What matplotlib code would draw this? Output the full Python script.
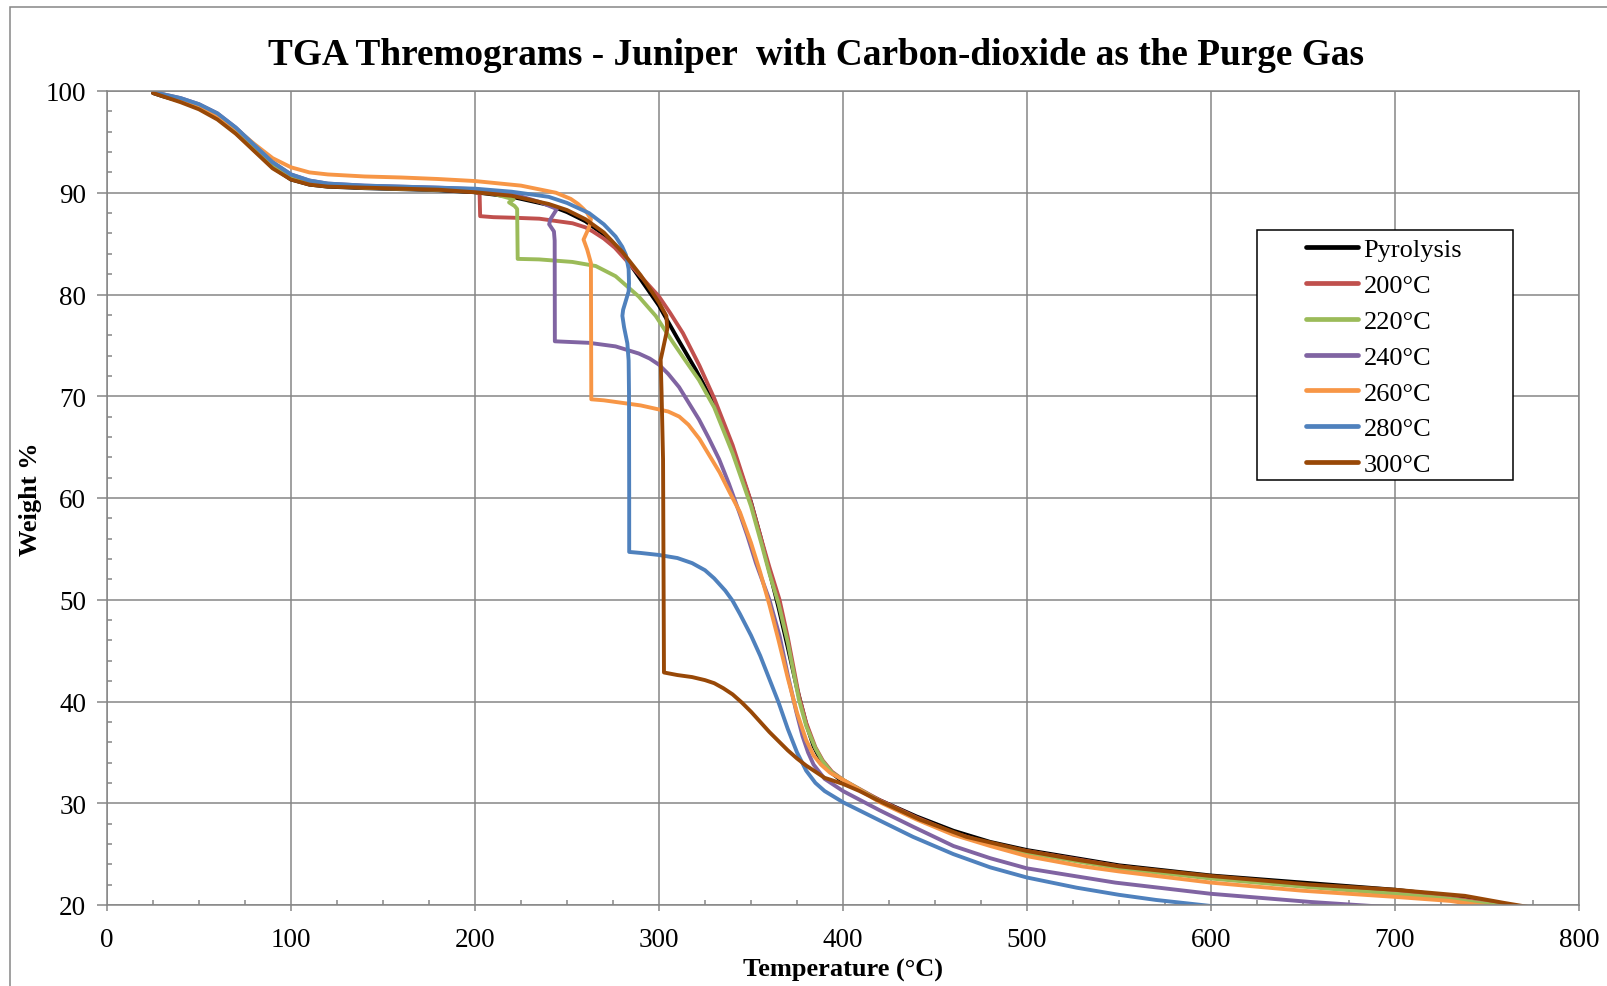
import matplotlib
matplotlib.use("Agg")
import matplotlib.pyplot as plt
from matplotlib.patches import Rectangle
from matplotlib.ticker import MultipleLocator

plt.rcParams['font.family'] = ['Liberation Serif', 'DejaVu Serif']

# ---- TGA data: temperature (°C) and remaining weight (%) per run ----
pyro_T = [25, 30, 40, 50, 60, 70, 80, 90, 100, 110, 120, 140, 160, 180, 200, 220, 240, 250,
          260, 270, 280, 290, 300, 310, 320, 330, 340, 350, 355, 360, 365, 370, 375, 380,
          384, 388, 393, 400, 420, 440, 460, 480, 500, 550, 600, 650, 700, 730, 750, 770]
pyro_W = [99.8, 99.5, 99.0, 98.3, 97.3, 95.9, 94.2, 92.5, 91.3, 90.8, 90.6, 90.45, 90.35, 90.25,
          90.05, 89.6, 88.8, 88.1, 87.2, 85.9, 84.1, 81.5, 78.9, 75.7, 72.6, 69.2, 64.8, 59.6,
          56.3, 52.8, 49.2, 45.3, 41.3, 37.8, 35.6, 34.2, 33.1, 32.1, 30.3, 28.7, 27.3, 26.2,
          25.4, 23.9, 22.9, 22.2, 21.5, 20.9, 20.3, 19.7]

t200_T = [25, 30, 40, 50, 60, 70, 80, 90, 100, 110, 120, 140, 160, 180, 200, 202.5, 202.8,
          210, 220, 235, 245, 253, 260, 264, 270, 276, 282, 289, 295, 300, 306, 313, 322, 330,
          340, 349, 356, 360, 365.5, 370, 376, 380, 385, 389, 394, 400, 420, 440, 460, 480,
          500, 550, 600, 650, 700, 730, 750, 768]
t200_W = [100, 99.6, 99.1, 98.5, 97.5, 96.1, 94.4, 92.7, 91.5, 90.9, 90.7, 90.5, 90.4, 90.3,
          90.1, 89.9, 87.7, 87.6, 87.55, 87.45, 87.2, 87.0, 86.6, 86.2, 85.5, 84.6, 83.4, 82.0,
          80.8, 79.8, 78.2, 76.2, 73.0, 69.8, 65.2, 60.2, 55.7, 53.2, 50.0, 46.3, 40.6, 37.9,
          35.5, 34.2, 33.1, 32.3, 30.3, 28.6, 27.1, 26.0, 25.3, 23.8, 22.7, 21.9, 21.2, 20.7,
          20.2, 19.7]

t220_T = [25, 30, 40, 50, 60, 70, 80, 90, 100, 110, 120, 140, 160, 180, 200, 210, 221.0,
          218.5, 221.5, 222.9, 223.2, 234.8, 252.9, 265.6, 276.4, 289, 298.2, 307.2, 314,
          321.7, 330, 340, 350, 356, 360, 365, 370, 376, 380, 385, 389, 394, 400, 420, 440,
          460, 480, 500, 550, 600, 650, 700, 730, 750, 766]
t220_W = [100, 99.6, 99.1, 98.5, 97.5, 96.1, 94.4, 92.7, 91.5, 90.9, 90.7, 90.5, 90.4, 90.3,
          90.2, 89.9, 89.35, 89.05, 88.7, 88.4, 83.5, 83.45, 83.2, 82.8, 81.8, 79.8, 77.9, 75.4,
          73.6, 71.6, 68.9, 64.4, 59.2, 55.3, 52.6, 49.6, 45.8, 40.2, 37.6, 35.4, 34.1, 33.0,
          32.3, 30.2, 28.5, 27.0, 25.9, 25.1, 23.6, 22.6, 21.8, 21.1, 20.6, 20.1, 19.7]

t240_T = [25, 30, 40, 50, 60, 70, 80, 90, 100, 110, 120, 140, 160, 180, 200, 220, 235, 244.5,
          241.0, 240.3, 242.9, 243.3, 243.4, 262, 276.4, 289, 295, 300, 305, 310.9, 316, 321.8,
          327, 332.7, 338, 343.6, 348, 352.7, 360, 365.6, 370, 374.6, 378, 381, 384, 390, 400,
          420, 438, 460, 480, 500, 548, 600, 654, 696, 705]
t240_W = [100, 99.7, 99.3, 98.7, 97.8, 96.4, 94.7, 93.0, 91.8, 91.2, 90.9, 90.7, 90.6, 90.5,
          90.35, 89.9, 89.1, 88.4, 87.4, 86.9, 86.2, 85.3, 75.4, 75.25, 74.9, 74.2, 73.7, 73.1,
          72.2, 70.9, 69.4, 67.7, 65.9, 63.8, 61.4, 58.6, 56.3, 53.6, 50.0, 46.4, 42.6, 39.0,
          36.6, 35.0, 33.8, 32.4, 31.2, 29.3, 27.7, 25.8, 24.6, 23.6, 22.2, 21.1, 20.3, 19.8,
          19.7]

t260_T = [25, 30, 40, 50, 60, 70, 80, 90, 100, 110, 120, 140, 160, 180, 200, 225, 244, 252,
          256, 259, 261, 263, 262, 259, 261, 263, 263.2, 270, 282, 290, 300, 305, 311, 316, 322,
          327, 333, 338, 344, 350, 355, 360, 365, 370, 375, 380, 384, 388, 393, 400, 420, 440,
          460, 480, 500, 530, 550, 600, 650, 700, 730, 745, 760]
t260_W = [100, 99.7, 99.2, 98.6, 97.6, 96.3, 94.8, 93.4, 92.5, 92.0, 91.8, 91.6, 91.5, 91.35,
          91.15, 90.7, 90.0, 89.4, 88.9, 88.4, 88.0, 87.4, 86.6, 85.4, 84.4, 83.1, 69.7, 69.6,
          69.3, 69.1, 68.7, 68.5, 68.0, 67.2, 65.8, 64.3, 62.5, 60.7, 58.6, 55.6, 52.7, 49.5,
          46.0, 42.3, 38.9, 36.2, 34.7, 33.8, 33.0, 32.3, 30.1, 28.4, 26.9, 25.8, 24.8, 23.8,
          23.3, 22.2, 21.4, 20.8, 20.4, 20.0, 19.7]

t280_T = [25, 30, 40, 50, 60, 70, 80, 90, 100, 110, 120, 140, 160, 180, 200, 220, 240, 250,
          262, 270, 276.4, 280, 282, 283.5, 283.7, 283.5, 280.5, 280.1, 281, 282.8, 283.5,
          283.7, 283.8, 283.8, 290, 300, 310, 318, 325, 330, 336, 340, 344, 350, 355, 360, 365,
          370, 375, 380, 385, 390, 400, 420, 438, 460, 480, 500, 527, 550, 570, 600, 616]
t280_W = [100, 99.7, 99.3, 98.7, 97.8, 96.4, 94.7, 93.0, 91.8, 91.2, 90.9, 90.7, 90.6, 90.5,
          90.4, 90.1, 89.6, 89.0, 88.0, 86.9, 85.7, 84.7, 83.9, 82.5, 81.1, 80.3, 78.5, 77.9,
          76.8, 75.2, 73.5, 70.3, 60.0, 54.7, 54.6, 54.4, 54.1, 53.6, 52.9, 52.1, 50.9, 49.9,
          48.6, 46.5, 44.5, 42.2, 39.9, 37.3, 35.0, 33.2, 32.0, 31.2, 30.1, 28.3, 26.7, 25.0,
          23.7, 22.7, 21.7, 21.0, 20.5, 19.9, 19.7]

t300_T = [25, 30, 40, 50, 60, 70, 80, 90, 100, 110, 120, 140, 160, 180, 200, 220, 240, 250,
          260, 270, 280, 290, 296.4, 300, 304, 304.5, 302, 300.9, 301.4, 302.2, 302.7, 310,
          318, 325, 330, 335, 340, 345, 350, 355, 360, 365, 370, 375, 380, 385, 390, 400,
          409, 420, 441.7, 467, 500, 528.6, 550, 600, 654, 700, 738, 759.5, 776]
t300_W = [99.8, 99.5, 98.9, 98.2, 97.2, 95.8, 94.1, 92.4, 91.3, 90.8, 90.6, 90.5, 90.4, 90.3,
          90.05, 89.7, 88.9, 88.3, 87.4, 86.1, 84.2, 81.9, 80.2, 79.2, 77.9, 76.6, 74.5, 73.6,
          70.3, 63.8, 42.85, 42.6, 42.4, 42.1, 41.8, 41.3, 40.7, 39.9, 39.0, 38.0, 37.0, 36.1,
          35.2, 34.4, 33.7, 33.1, 32.5, 31.9, 31.2, 30.2, 28.4, 26.7, 25.3, 24.4, 23.8, 22.85,
          22.0, 21.5, 20.9, 20.2, 19.7]

labels = ['Pyrolysis', '200°C', '220°C', '240°C', '260°C', '280°C', '300°C']
colors = ['#000000', '#C0504D', '#9BBB59', '#8064A2', '#F79646', '#4F81BD', '#984807']
series = [(pyro_T, pyro_W), (t200_T, t200_W), (t220_T, t220_W), (t240_T, t240_W),
          (t260_T, t260_W), (t280_T, t280_W), (t300_T, t300_W)]

x_ticks = [0, 100, 200, 300, 400, 500, 600, 700, 800]
y_ticks = [20, 30, 40, 50, 60, 70, 80, 90, 100]

GRAY = '#868686'
W, H = 1608, 987

fig = plt.figure(figsize=(W / 100, H / 100), dpi=100)
ax = fig.add_axes([107 / W, 1 - 906 / H, (1579 - 107) / W, (906 - 92) / H])

for (T, Wt), lab, col in zip(series, labels, colors):
    ax.plot(T, Wt, color=col, lw=2.8, label=lab, solid_joinstyle='round',
            solid_capstyle='round', zorder=2)

ax.set_xlim(0, 800)
ax.set_ylim(20, 100)
ax.set_xticks(x_ticks)
ax.set_yticks(y_ticks)
ax.xaxis.set_minor_locator(MultipleLocator(25))
ax.yaxis.set_minor_locator(MultipleLocator(2))
ax.grid(True, which='major', color=GRAY, lw=1.1)
ax.set_axisbelow(True)
for s in ax.spines.values():
    s.set_color(GRAY)
    s.set_linewidth(1.1)

ax.tick_params(axis='x', which='major', direction='out', length=4.5, width=1.1,
               color=GRAY, labelsize=19.5, pad=11)
ax.tick_params(axis='y', which='major', direction='out', length=7, width=1.1,
               color=GRAY, labelsize=19.5, pad=8)
ax.tick_params(which='minor', direction='in', length=3.8, width=1.1, color=GRAY)

# title and axis labels
fig.text(816 / W, 1 - 64.6 / H,
         'TGA Thremograms - Juniper  with Carbon-dioxide as the Purge Gas',
         ha='center', va='baseline', fontsize=26.85, fontweight='bold')
fig.text(843 / W, 1 - 977 / H, 'Temperature (°C)', ha='center', va='baseline',
         fontsize=19, fontweight='bold')
fig.text(31 / W, 1 - 499 / H, 'Weight %', rotation=90, ha='center', va='center',
         fontsize=19, fontweight='bold')

# legend box and entries
box = Rectangle((1257 / W, 1 - 481 / H), (1513 - 1257) / W, (481 - 231) / H,
                transform=fig.transFigure, facecolor='white', edgecolor='black',
                lw=1.1, zorder=4, clip_on=False)
ax.add_patch(box)
leg = ax.legend(loc='center', bbox_to_anchor=(1384 / W, 1 - 358 / H),
                bbox_transform=fig.transFigure, frameon=False, fontsize=19,
                handlelength=2.0, handletextpad=0.2, labelspacing=0.47,
                borderpad=0.0)
leg.set_zorder(5)
for line in leg.get_lines():
    line.set_linewidth(3.4)

# chart area border
fig.add_artist(Rectangle((10 / W, -0.1), 2.0, 1 - 8 / H + 0.1, transform=fig.transFigure,
                         fill=False, edgecolor=GRAY, lw=1.1))

fig.savefig('out.png', dpi=100)
